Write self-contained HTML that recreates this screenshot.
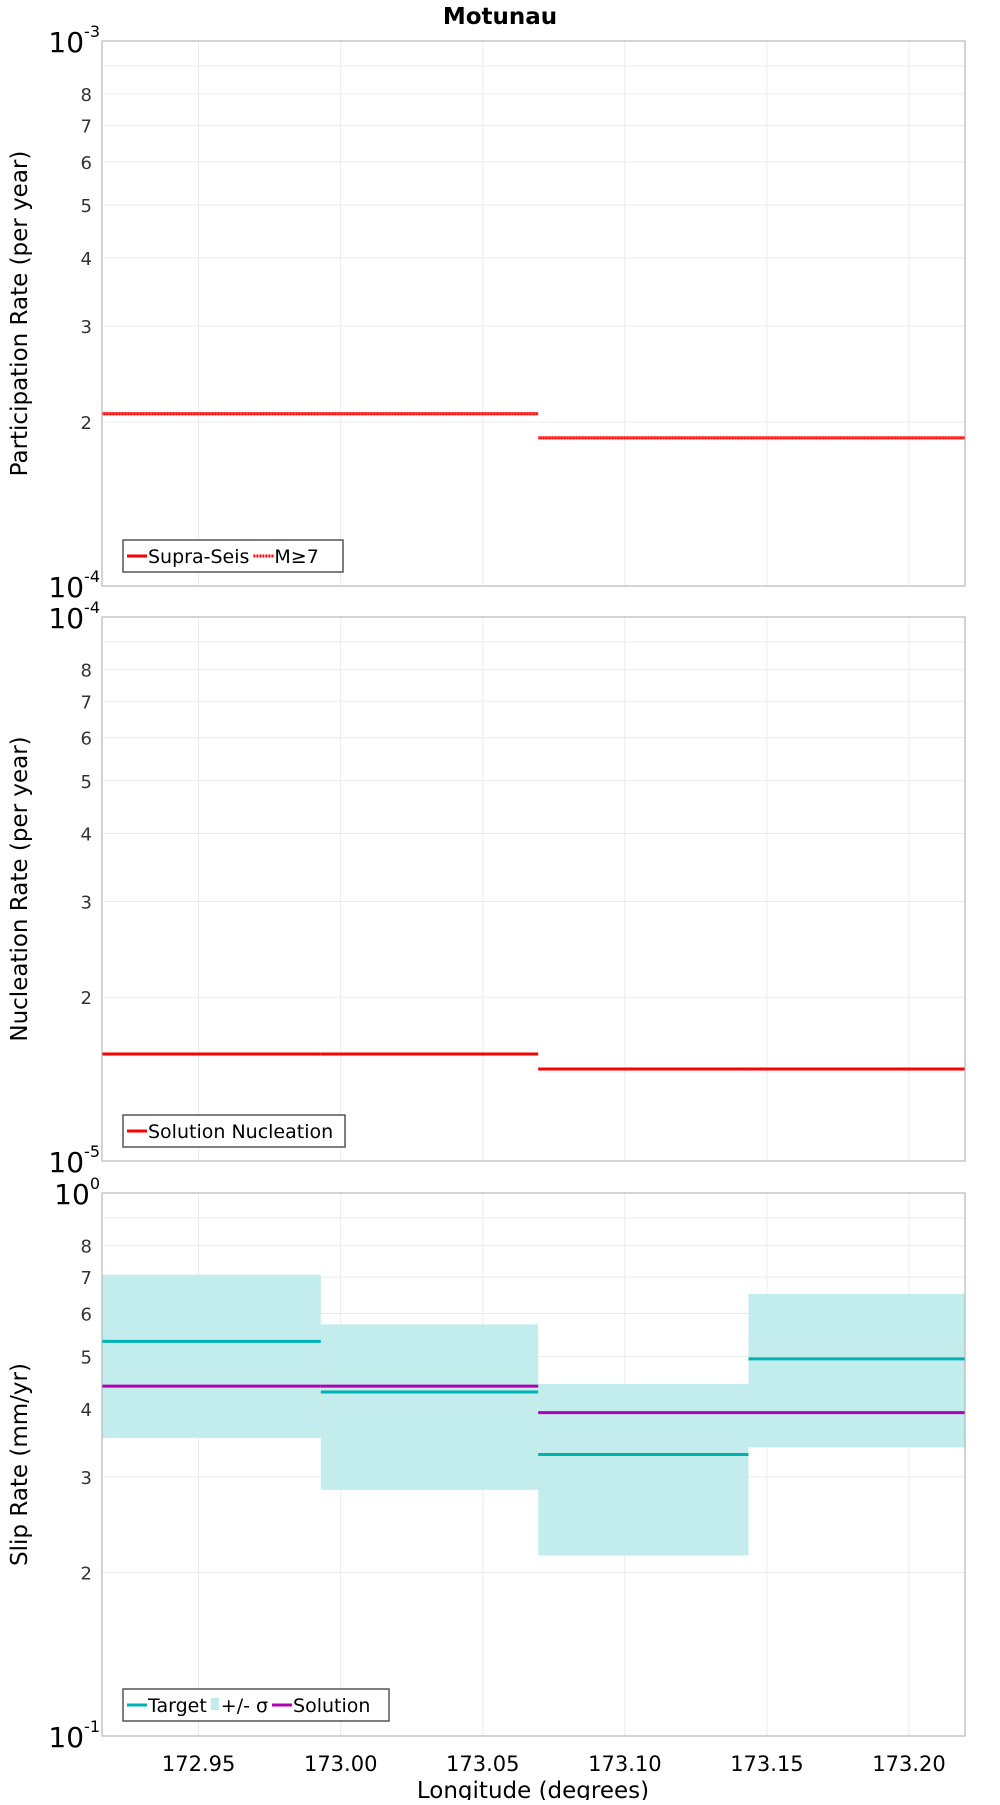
<!DOCTYPE html>
<html><head><meta charset="utf-8"><style>
body{margin:0;background:#fff;}
svg text{font-family:"DejaVu Sans","Liberation Sans",sans-serif;}
</style></head><body>
<svg id="c" width="1000" height="1800" xmlns="http://www.w3.org/2000/svg">
<text x="500" y="24" text-anchor="middle" font-size="23" font-weight="bold">Motunau</text>
</svg>
<script>
const xEdges = [172.916, 172.993, 173.0695, 173.1435, 173.2197];
const xTicks = [172.95, 173.00, 173.05, 173.10, 173.15, 173.20];
const xTickLabels = ["172.95","173.00","173.05","173.10","173.15","173.20"];
const supraSeis = [2.07e-4, 2.07e-4, 1.87e-4, 1.87e-4];
const m7 = [2.07e-4, 2.07e-4, 1.87e-4, 1.87e-4];
const nucleation = [1.573e-5, 1.573e-5, 1.476e-5, 1.476e-5];
const slipTarget = [0.533, 0.430, 0.330, 0.495];
const slipUpper = [0.707, 0.573, 0.445, 0.652];
const slipLower = [0.354, 0.284, 0.215, 0.340];
const slipSolution = [0.441, 0.441, 0.394, 0.394];

const NS="http://www.w3.org/2000/svg";
const svg=document.getElementById('c');
const L=102,R=965;
function mk(tag,attrs,parent){const e=document.createElementNS(NS,tag);for(const k in attrs)e.setAttribute(k,attrs[k]);(parent||svg).appendChild(e);return e;}
const xs=v=>L+(v-xEdges[0])/(xEdges[xEdges.length-1]-xEdges[0])*(R-L);

function panel(top,bot,dmin,title,name){
  const g=mk('g',{});
  
  
  const ys=v=>bot-(Math.log10(v)-Math.log10(dmin))*(bot-top);
  mk('rect',{x:L,y:top,width:R-L,height:bot-top,fill:'#fff'},g);
  xTicks.forEach(t=>{const l=mk('line',{x1:xs(t),x2:xs(t),y1:top,y2:bot,stroke:'#ebebeb','stroke-width':1},g);
    });
  for(let m=2;m<=9;m++){const y=ys(dmin*m);
    const l=mk('line',{x1:L,x2:R,y1:y,y2:y,stroke:'#ebebeb','stroke-width':1},g);
    
    if(m<=8){const t=mk('text',{x:L-10,y:y+7,'text-anchor':'end','font-size':18,fill:'#333'},g);t.textContent=m;
      }}
  const e=Math.round(Math.log10(dmin));
  [[bot,e],[top,e+1]].forEach(([y,p])=>{const t=mk('text',{x:L-2,y:y+11,'text-anchor':'end','font-size':28},g);
    t.innerHTML='10<tspan font-size="16" dy="-15">'+p+'</tspan>';
    });
  const yt=mk('text',{x:0,y:0,'text-anchor':'middle','font-size':23,transform:`translate(27,${(top+bot)/2}) rotate(-90)`},g);
  yt.textContent=title;
  return {g,ys};
}
function steps(p,vals,color,w,name,dash){
  vals.forEach((v,i)=>{const l=mk('line',{x1:xs(xEdges[i]),x2:xs(xEdges[i+1]),y1:p.ys(v),y2:p.ys(v),stroke:color,'stroke-width':w},p.g);
    if(dash)l.setAttribute('stroke-dasharray',dash);
    });
}
function frame(p,top,bot){mk('rect',{x:L,y:top,width:R-L,height:bot-top,fill:'none',stroke:'#aaa','stroke-width':1},p.g);}
function legend(p,x,y,w,items){
  const lg=mk('g',{},p.g);
  const box=mk('rect',{x:x,y:y,width:w,height:32,fill:'#fff',stroke:'#555','stroke-width':1.5},lg);
  let cx=x+4;
  items.forEach(it=>{
    if(it.box){mk('rect',{x:cx,y:y+9,width:8,height:12,fill:it.color},lg);cx+=10;}
    else{const l=mk('line',{x1:cx,x2:cx+20,y1:y+16,y2:y+16,stroke:it.color,'stroke-width':3},lg);if(it.dash)l.setAttribute('stroke-dasharray',it.dash);cx+=21;}
    const t=mk('text',{x:cx,y:y+23,'font-size':19},lg);t.textContent=it.label;
    
    let tw=0;try{tw=t.getComputedTextLength();}catch(e){}
    cx+=(tw||it.w)+4;});
  box.setAttribute('width',Math.max(w,cx-x));
}

const p1=panel(41,586,1e-4,'Participation Rate (per year)','participation-panel');
steps(p1,supraSeis,'#ff0000',3,'supra-seis-line');
steps(p1,m7,'#ff5050',1.5,'m7-line','2,1');
frame(p1,41,586);
legend(p1,123,540,220,[{color:'#ff0000',label:'Supra-Seis',w:100},{color:'#ff0000',label:'M≥7',dash:'2,1',w:40}]);

const p2=panel(617,1161,1e-5,'Nucleation Rate (per year)','nucleation-panel');
steps(p2,nucleation,'#ff0000',3,'nucleation-line');
frame(p2,617,1161);
legend(p2,123,1115,222,[{color:'#ff0000',label:'Solution Nucleation',w:190}]);

const p3=panel(1193,1736,0.1,'Slip Rate (mm/yr)','slip-panel');
slipUpper.forEach((u,i)=>{const r=mk('rect',{x:xs(xEdges[i]),y:p3.ys(u),width:xs(xEdges[i+1])-xs(xEdges[i]),height:p3.ys(slipLower[i])-p3.ys(u),fill:'#c3ecec'},p3.g);
  });
steps(p3,slipTarget,'#00b3b3',3,'target-line');
steps(p3,slipSolution,'#b300b3',3,'solution-line');
frame(p3,1193,1736);
legend(p3,123,1689,266,[{color:'#00b3b3',label:'Target',w:65},{color:'#c3ecec',box:true,label:'+/- σ',w:56},{color:'#b300b3',label:'Solution',w:85}]);

xTicks.forEach((t,i)=>{const e=mk('text',{x:xs(t),y:1771,'text-anchor':'middle','font-size':21});e.textContent=xTickLabels[i];
  });
const xt=mk('text',{x:533,y:1798,'text-anchor':'middle','font-size':23});xt.textContent='Longitude (degrees)';

</script>
</body></html>
